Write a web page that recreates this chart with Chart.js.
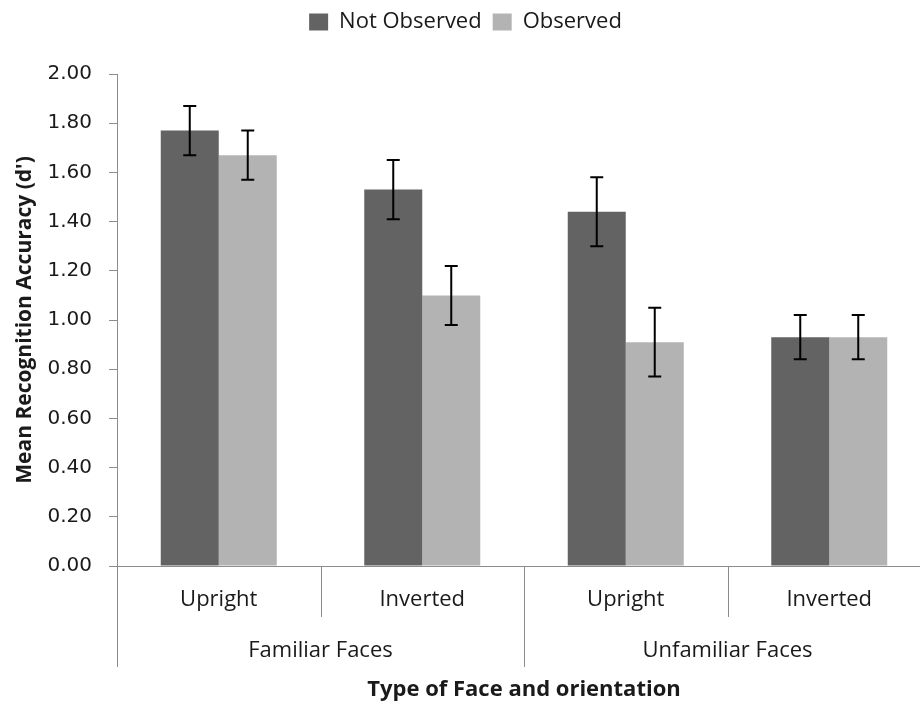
<!DOCTYPE html>
<html>
<head>
<meta charset="utf-8">
<script src="https://cdn.jsdelivr.net/npm/chart.js@4.4.1/dist/chart.umd.min.js"></script>
<style>
  html, body { margin: 0; padding: 0; background: #fff; overflow: hidden; }
  #wrap { width: 940px; height: 704px; }
</style>
</head>
<body>
<div id="wrap"><canvas id="chart"></canvas></div>
<script>
// Face recognition accuracy (d') by face type / orientation

const orientations = ['Upright', 'Inverted', 'Upright', 'Inverted'];
const faceTypes = ['Familiar Faces', 'Unfamiliar Faces'];
const notObserved = [1.77, 1.53, 1.44, 0.93];
const observed = [1.67, 1.10, 0.91, 0.93];
const notObservedErr = [0.10, 0.12, 0.14, 0.09];
const observedErr = [0.10, 0.12, 0.14, 0.09];
const yTickValues = [0, 0.2, 0.4, 0.6, 0.8, 1.0, 1.2, 1.4, 1.6, 1.8, 2.0];

const AXIS_GREY = '#8c8c8c';
const TEXT = '#1a1a1a';
const SANS = "'Open Sans', 'Noto Sans', sans-serif";

// legend keeps a fixed height so the plot top lands on the 2.00 line
const legendHeight = {
  id: 'legendHeight',
  beforeInit(chart) {
    const fit = chart.legend.fit;
    chart.legend.fit = function() {
      fit.bind(chart.legend)();
      this.height = 74;
    };
  }
};

// error bars, drawn from the errors arrays through the y scale
const errorBars = {
  id: 'errorBars',
  afterDatasetsDraw(chart) {
    const ctx = chart.ctx;
    const y = chart.scales.y;
    const errs = [notObservedErr, observedErr];
    ctx.save();
    ctx.strokeStyle = '#000';
    ctx.lineWidth = 2;
    chart.data.datasets.forEach((ds, di) => {
      chart.getDatasetMeta(di).data.forEach((bar, i) => {
        const v = ds.data[i];
        const top = y.getPixelForValue(v + errs[di][i]);
        const bot = y.getPixelForValue(v - errs[di][i]);
        const cap = 6.5;
        ctx.beginPath();
        ctx.moveTo(bar.x, top); ctx.lineTo(bar.x, bot);
        ctx.moveTo(bar.x - cap, top); ctx.lineTo(bar.x + cap, top);
        ctx.moveTo(bar.x - cap, bot); ctx.lineTo(bar.x + cap, bot);
        ctx.stroke();
      });
    });
    ctx.restore();
  }
};

// two-level category axis: dividers + face type labels
const groupAxis = {
  id: 'groupAxis',
  afterDraw(chart) {
    const ctx = chart.ctx;
    const x = chart.scales.x;
    const area = chart.chartArea;
    const step = (area.right - area.left) / orientations.length;
    ctx.save();
    ctx.strokeStyle = AXIS_GREY;
    ctx.lineWidth = 1;
    for (let i = 0; i <= orientations.length; i++) {
      const px = Math.round(area.left + i * step) + 0.5;
      const long = i % 2 === 0;
      ctx.beginPath();
      ctx.moveTo(px, area.bottom);
      ctx.lineTo(px, area.bottom + (long ? 101 : 51));
      ctx.stroke();
    }
    ctx.fillStyle = TEXT;
    ctx.font = '22px ' + SANS;
    ctx.textAlign = 'center';
    ctx.textBaseline = 'middle';
    faceTypes.forEach((t, g) => {
      const cx = (x.getPixelForValue(g * 2) + x.getPixelForValue(g * 2 + 1)) / 2;
      ctx.fillText(t, cx, area.bottom + 85);
    });
    ctx.restore();
  }
};

new Chart(document.getElementById('chart'), {
  type: 'bar',
  data: {
    labels: orientations,
    datasets: [
      { label: 'Not Observed', data: notObserved, backgroundColor: '#636363' },
      { label: 'Observed', data: observed, backgroundColor: '#b3b3b3' }
    ]
  },
  options: {
    responsive: true,
    maintainAspectRatio: false,
    animation: false,
    categoryPercentage: 0.57,
    barPercentage: 1.0,
    layout: { padding: { left: 0, right: 9, top: 0, bottom: 0 } },
    plugins: {
      legend: {
        display: true,
        position: 'top',
        labels: {
          color: TEXT,
          font: { family: SANS, size: 22 },
          boxWidth: 19,
          boxHeight: 17,
          padding: 11
        }
      },
      tooltip: { enabled: false }
    },
    scales: {
      x: {
        grid: { display: false, drawTicks: false },
        border: { display: true, color: AXIS_GREY, width: 1 },
        ticks: { color: TEXT, font: { family: SANS, size: 22 }, padding: 21 },
        title: {
          display: true,
          text: 'Type of Face and orientation',
          color: TEXT,
          font: { family: SANS, size: 22, weight: 'bold' },
          padding: { top: 0, bottom: 1 }
        },
        afterFit(scale) { scale.height = 138; }
      },
      y: {
        min: 0,
        max: 2,
        afterBuildTicks(scale) { scale.ticks = yTickValues.map(v => ({ value: v })); },
        grid: { drawOnChartArea: false, drawTicks: true, tickLength: 8, color: AXIS_GREY },
        border: { display: true, color: AXIS_GREY, width: 1 },
        ticks: {
          color: TEXT,
          padding: 17,
          font: { family: "'DejaVu Sans', Verdana, sans-serif", size: 20 },
          callback: v => v.toFixed(2)
        },
        title: {
          display: true,
          text: "Mean Recognition Accuracy (d')",
          color: TEXT,
          font: { family: SANS, size: 21, weight: 'bold' },
          padding: { top: 12, bottom: 0 }
        },
        afterFit(scale) { scale.width = 117; }
      }
    }
  },
  plugins: [legendHeight, errorBars, groupAxis]
});
</script>
</body>
</html>
